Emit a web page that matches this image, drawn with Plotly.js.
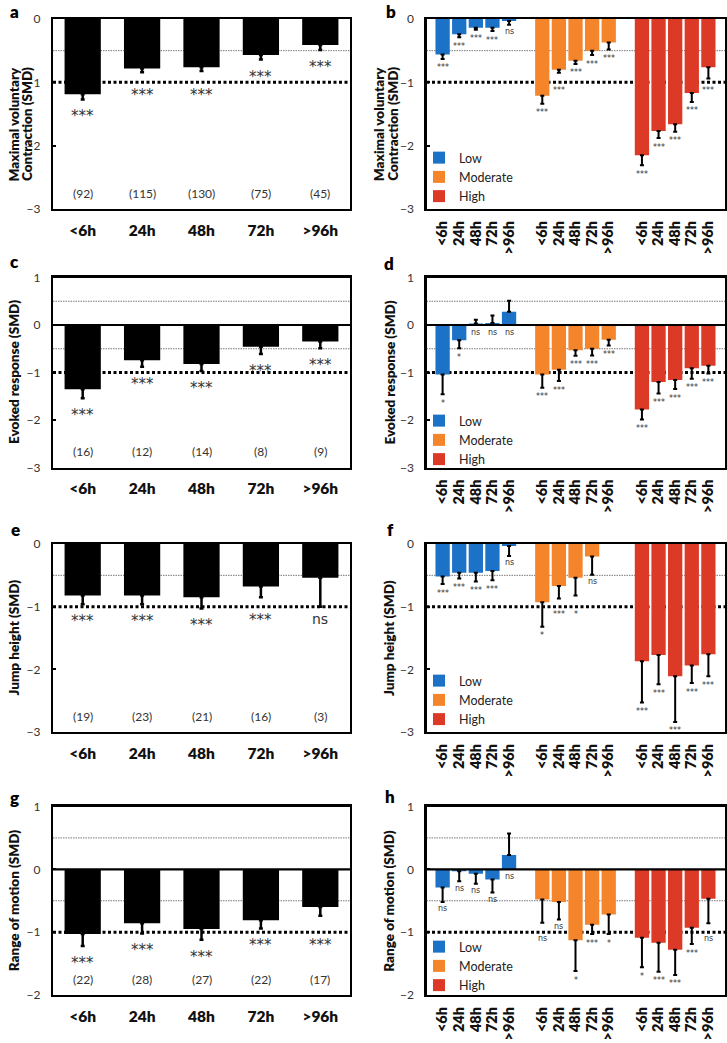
<!DOCTYPE html>
<html><head><meta charset="utf-8">
<script src="https://cdn.plot.ly/plotly-3.0.1.min.js"></script>
<style>html,body{margin:0;padding:0;background:#fff}#chart{width:727px;height:1043px}</style>
</head><body><div id="chart"></div>
<script>
// ---------- DATA ----------
const times = ['<6h','24h','48h','72h','>96h'];
const groups = ['Low','Moderate','High'];

// Panel a: Maximal voluntary contraction (all)
const aVal = [-1.19, -0.78, -0.76, -0.57, -0.41];
const aErr = [0.08, 0.06, 0.06, 0.07, 0.08];
const aSig = ['***','***','***','***','***'];
const aN   = [92, 115, 130, 75, 45];

// Panel c: Evoked response (all)
const cVal = [-1.35, -0.74, -0.82, -0.46, -0.35];
const cErr = [0.19, 0.14, 0.15, 0.15, 0.14];
const cSig = ['***','***','***','***','***'];
const cN   = [16, 12, 14, 8, 9];

// Panel e: Jump height (all)
const eVal = [-0.82, -0.82, -0.85, -0.68, -0.54];
const eErr = [0.14, 0.14, 0.18, 0.17, 0.46];
const eSig = ['***','***','***','***','ns'];
const eN   = [19, 23, 21, 16, 3];

// Panel g: Range of motion (all)
const gVal = [-1.03, -0.86, -0.95, -0.81, -0.60];
const gErr = [0.19, 0.16, 0.17, 0.13, 0.14];
const gSig = ['***','***','***','***','***'];
const gN   = [22, 28, 27, 22, 17];

// Panel b: Maximal voluntary contraction by intensity
const bLow     = [-0.56, -0.24, -0.14, -0.14, -0.03];
const bLowErr  = [0.07, 0.05, 0.03, 0.05, 0.06];
const bLowSig  = ['***','***','***','***','ns'];
const bMod     = [-1.21, -0.80, -0.66, -0.50, -0.37];
const bModErr  = [0.13, 0.05, 0.05, 0.07, 0.11];
const bModSig  = ['***','***','***','***','***'];
const bHigh    = [-2.15, -1.77, -1.66, -1.17, -0.76];
const bHighErr = [0.16, 0.11, 0.12, 0.14, 0.18];
const bHighSig = ['***','***','***','***','***'];

// Panel d: Evoked response by intensity
const dLow     = [-1.04, -0.32, 0.03, 0.04, 0.28];
const dLowErr  = [0.42, 0.17, 0.08, 0.16, 0.23];
const dLowSig  = ['*','*','ns','ns','ns'];
const dMod     = [-1.04, -0.94, -0.53, -0.50, -0.31];
const dModErr  = [0.28, 0.24, 0.12, 0.14, 0.12];
const dModSig  = ['***','***','***','***','***'];
const dHigh    = [-1.78, -1.20, -1.16, -0.91, -0.86];
const dHighErr = [0.21, 0.24, 0.19, 0.22, 0.16];
const dHighSig = ['***','***','***','***','***'];

// Panel f: Jump height by intensity
const fLow     = [-0.52, -0.46, -0.46, -0.43, -0.03];
const fLowErr  = [0.12, 0.09, 0.14, 0.15, 0.16];
const fLowSig  = ['***','***','***','***','ns'];
const fMod     = [-0.93, -0.67, -0.54, -0.20, null];
const fModErr  = [0.39, 0.20, 0.28, 0.29, null];
const fModSig  = ['*','***','*','ns',''];
const fHigh    = [-1.87, -1.77, -2.11, -1.94, -1.76];
const fHighErr = [0.66, 0.47, 0.73, 0.28, 0.35];
const fHighSig = ['***','***','***','***','***'];

// Panel h: Range of motion by intensity
const hLow     = [-0.29, -0.03, -0.07, -0.16, 0.23];
const hLowErr  = [0.23, 0.16, 0.16, 0.21, 0.34];
const hLowSig  = ['ns','ns','ns','ns','ns'];
const hMod     = [-0.48, -0.52, -1.13, -0.88, -0.72];
const hModErr  = [0.37, 0.28, 0.49, 0.15, 0.31];
const hModSig  = ['ns','ns','*','***','*'];
const hHigh    = [-1.09, -1.17, -1.28, -0.93, -0.47];
const hHighErr = [0.47, 0.46, 0.40, 0.26, 0.39];
const hHighSig = ['*','***','***','***','ns'];

const yTitleLines = [
  ['Maximal voluntary', 'Contraction (SMD)'],
  ['Evoked response (SMD)'],
  ['Jump height (SMD)'],
  ['Range of motion (SMD)']
];
const panelLetters = ['a','b','c','d','e','f','g','h'];

// ---------- LAYOUT / STYLE ----------
const W = 727, H = 1043;
const FONT = 'Lato, "DejaVu Sans", sans-serif';
const colors = ['#1b72c6', '#f5852a', '#dc3a26'];
const rowsPx = [[19,209],[277.5,467.5],[544,732],[806.5,995]];
const colsPx = [[53,350],[426.5,725]];
const yRanges = [[-3,0],[-3,1],[-3,0],[-2,1]];
const rightXRange = [-0.97, 17];

const leftData = [
  {val:aVal, err:aErr, sig:aSig, n:aN},
  {val:cVal, err:cErr, sig:cSig, n:cN},
  {val:eVal, err:eErr, sig:eSig, n:eN},
  {val:gVal, err:gErr, sig:gSig, n:gN}
];
const rightData = [
  [{val:bLow,err:bLowErr,sig:bLowSig},{val:bMod,err:bModErr,sig:bModSig},{val:bHigh,err:bHighErr,sig:bHighSig}],
  [{val:dLow,err:dLowErr,sig:dLowSig},{val:dMod,err:dModErr,sig:dModSig},{val:dHigh,err:dHighErr,sig:dHighSig}],
  [{val:fLow,err:fLowErr,sig:fLowSig},{val:fMod,err:fModErr,sig:fModSig},{val:fHigh,err:fHighErr,sig:fHighSig}],
  [{val:hLow,err:hLowErr,sig:hLowSig},{val:hMod,err:hModErr,sig:hModSig},{val:hHigh,err:hHighErr,sig:hHighSig}]
];

function errArrays(val, err) {
  return {
    plus: val.map((v,i)=> (v!=null && v>0) ? err[i] : 0),
    minus: val.map((v,i)=> (v!=null && v<0) ? err[i] : 0)
  };
}
function labelY(v, e, yr, off, thr, push) {
  const ppu = 190/(yr[1]-yr[0]);
  if (v > 0) return 0 - off/ppu;
  let c = (v - e) - off/ppu;
  if (Math.abs(c + 1)*ppu < thr) c = -1 - push/ppu;
  return c;
}

const traces = [];
const layout = {
  width: W, height: H,
  margin: {l:0, r:0, t:0, b:0},
  paper_bgcolor: '#fff', plot_bgcolor: '#fff',
  barmode: 'overlay',
  font: {family: FONT, color: '#222'},
  shapes: [], annotations: []
};

function addAxes(k, col, row, xr, tickvals, ticktext, tickangle, xfs) {
  const yr = yRanges[row];
  const tv = [];
  for (let t = yr[0]; t <= yr[1]; t++) tv.push(t);
  const suf = (k===1?'':k);
  layout['xaxis'+suf] = {
    domain: [colsPx[col][0]/W, colsPx[col][1]/W],
    anchor: 'y'+suf,
    range: xr, tickvals: tickvals, ticktext: ticktext, tickangle: tickangle,
    showline: true, mirror: true, linewidth: 2.2, linecolor: '#000',
    ticks: '', showgrid: false, zeroline: false, ticklabelstandoff: col===0 ? 6 : 4,
    tickfont: {family: FONT, size: xfs, weight: 800, color: '#111'}
  };
  layout['yaxis'+suf] = {
    domain: [1-rowsPx[row][1]/H, 1-rowsPx[row][0]/H],
    anchor: 'x'+suf,
    range: yr, tickvals: tv,
    showline: true, mirror: true, linewidth: 2.2, linecolor: '#000',
    ticks: 'inside', ticklen: 3, tickwidth: 2, tickcolor: '#000',
    showgrid: false, zeroline: false, ticklabelstandoff: 8,
    tickfont: {family: FONT, size: 12, color: '#333'}
  };
  const xd = 'x'+suf+' domain', yref = 'y'+suf;
  layout.shapes.push({type:'line', xref:xd, x0:0, x1:1, yref:yref, y0:-0.5, y1:-0.5,
    line:{color:'#777', width:1, dash:'1.5px,1px'}, layer:'below'});
  if (yr[1] >= 1) {
    layout.shapes.push({type:'line', xref:xd, x0:0, x1:1, yref:yref, y0:0.5, y1:0.5,
      line:{color:'#777', width:1, dash:'1.5px,1px'}, layer:'below'});
    layout.shapes.push({type:'line', xref:xd, x0:0, x1:1, yref:yref, y0:0, y1:0,
      line:{color:'#000', width:2.2}, layer:'above'});
  }
  layout.shapes.push({type:'line', xref:xd, x0:0, x1:1, yref:yref, y0:-1, y1:-1,
    line:{color:'#000', width:3, dash:'3px,2.5px'}, layer:'below'});
}

// Left panels
leftData.forEach((d, row) => {
  const k = row*2 + 1;
  const suf = (k===1?'':k);
  const xs = times.map((_, i) => i);
  const ea = errArrays(d.val, d.err);
  traces.push({
    type:'bar', x: xs, y: d.val, width: 0.61,
    marker:{color:'#000'},
    error_y:{type:'data', symmetric:false, array:ea.plus, arrayminus:ea.minus, color:'#000', thickness:2.5, width:2},
    xaxis:'x'+suf, yaxis:'y'+suf, showlegend:false, hoverinfo:'skip'
  });
  addAxes(k, 0, row, [-0.5, 4.5], xs, times, 0, 15.5);
  const yr = yRanges[row];
  d.sig.forEach((s, i) => {
    const y = labelY(d.val[i], d.err[i], yr, 12, 6, 8);
    layout.annotations.push({xref:'x'+suf, yref:'y'+suf, x: xs[i], y: y, text: s,
      showarrow:false, xanchor:'center', yanchor:'middle', yshift: s==='ns' ? 0 : -5,
      font:{family:'"DejaVu Sans", sans-serif', size: s==='ns'?14:15, color:'#333'}});
  });
  d.n.forEach((n, i) => {
    layout.annotations.push({xref:'x'+suf, yref:'y'+suf+' domain', x: xs[i], y: 16/190,
      text: '(' + n + ')', showarrow:false, xanchor:'center', yanchor:'middle',
      font:{family:FONT, size:12, color:'#333'}});
  });
});

// Right panels
const legendTops = [143, 406, 666, 932];
rightData.forEach((pd, row) => {
  const k = row*2 + 2;
  const legName = row===0 ? 'legend' : 'legend'+(row+1);
  const allX = [], allT = [];
  pd.forEach((d, g) => {
    const xs = times.map((_, i) => g*6 + i);
    xs.forEach((x,i)=>{allX.push(x); allT.push(times[i]);});
    const ea = errArrays(d.val, d.err);
    traces.push({
      type:'bar', name: groups[g], x: xs, y: d.val, width: 0.86,
      marker:{color: colors[g]},
      error_y:{type:'data', symmetric:false, array:ea.plus, arrayminus:ea.minus, color:'#000', thickness:2, width:2},
      xaxis:'x'+k, yaxis:'y'+k, legend: legName, showlegend:true, hoverinfo:'skip'
    });
    const yr = yRanges[row];
    d.sig.forEach((s, i) => {
      if (!s || d.val[i] == null) return;
      const y = labelY(d.val[i], d.err[i], yr, 7, 5, 6);
      layout.annotations.push({xref:'x'+k, yref:'y'+k, x: xs[i], y: y, text: s,
        showarrow:false, xanchor:'center', yanchor:'middle', yshift: s==='ns' ? 0 : -2,
        font:{family:'"DejaVu Sans", sans-serif', size: 8, color:'#333'}});
    });
  });
  addAxes(k, 1, row, rightXRange, allX, allT, -90, 14.5);
  layout[legName] = {
    x: 419/W, xanchor:'left', y: 1 - legendTops[row]/H, yanchor:'top',
    bgcolor:'rgba(0,0,0,0)', borderwidth:0, traceorder:'normal',
    font:{family:FONT, size:12.5, color:'#222'}
  };
});

// Y-axis titles (lines placed individually for tight leading)
const titleX = [[13.5, 13.5, 13.5, 13.5],[386, 389, 389, 389]];
const lineGap = 13.5;
const titleYOffset = [10, 0, 0, 0];
for (let row = 0; row < 4; row++) {
  for (let col = 0; col < 2; col++) {
    const yc = (rowsPx[row][0] + rowsPx[row][1]) / 2 + titleYOffset[row];
    const lines = yTitleLines[row];
    const x0 = titleX[col][row] - (lines.length - 1) * (col === 1 ? lineGap/2 : 0);
    lines.forEach((ln, j) => {
      layout.annotations.push({xref:'paper', yref:'paper', x: (x0 + j*lineGap)/W, y: 1 - yc/H,
        text: ln, textangle: -90, showarrow:false, xanchor:'center', yanchor:'middle',
        font:{family:FONT, size:13.5, weight:800, color:'#111'}});
    });
  }
}

// Panel letters
const letterPos = [[14,11],[391,11],[14,261],[389,263],[15,529],[390,529],[14,797],[390,796]];
panelLetters.forEach((L, i) => {
  layout.annotations.push({xref:'paper', yref:'paper', x: letterPos[i][0]/W, y: 1 - letterPos[i][1]/H,
    text: L, showarrow:false, xanchor:'center', yanchor:'middle',
    font:{family:FONT, size:17, weight:800, color:'#000'}});
});

Plotly.newPlot('chart', traces, layout, {staticPlot:true, displayModeBar:false});
</script>
</body></html>
